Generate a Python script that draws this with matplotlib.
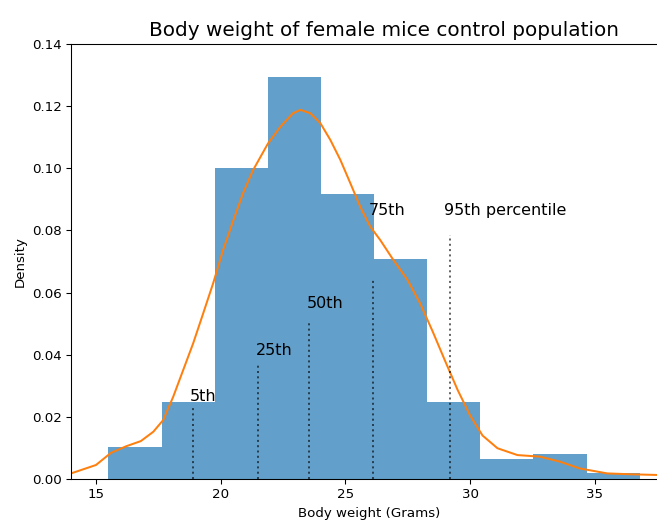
import numpy as np
import matplotlib
matplotlib.use('Agg')
import matplotlib.pyplot as plt

# histogram of body weights (density), 10 bins
bin_edges = [15.5, 17.63, 19.76, 21.89, 24.02, 26.15, 28.28, 30.41, 32.54, 34.67, 36.8]
bin_density = [0.0103, 0.0248, 0.1001, 0.1294, 0.0917, 0.0708, 0.0248, 0.0064, 0.0080, 0.0019]

# kernel density estimate
kde_x = [14.0, 15.0, 15.6, 16.2, 16.8, 17.3, 17.7, 18.1, 18.5, 18.9, 19.3, 19.7,
         20.1, 20.5, 20.9, 21.3, 21.9, 22.4, 22.9, 23.2, 23.6, 24.0, 24.4, 24.8,
         25.2, 25.6, 26.0, 26.4, 26.9, 27.5, 28.0, 28.5, 29.0, 29.5, 30.0, 30.5,
         31.1, 31.9, 32.8, 33.6, 34.4, 35.5, 36.5, 37.5]
kde_y = [0.0018, 0.0045, 0.0084, 0.0105, 0.0122, 0.0152, 0.0190, 0.0265, 0.0351, 0.0437,
         0.0533, 0.0630, 0.0737, 0.0830, 0.0920, 0.0994, 0.1080, 0.1134, 0.1177, 0.1188,
         0.1177, 0.1145, 0.1091, 0.1027, 0.0952, 0.0876, 0.0812, 0.0769, 0.0708, 0.0640,
         0.0565, 0.0475, 0.0380, 0.0287, 0.0205, 0.0140, 0.0099, 0.0077, 0.0072, 0.0056,
         0.0034, 0.0018, 0.0015, 0.0013]

# percentiles: position, line height, label
pct_x = [18.9, 21.5, 23.53, 26.1, 29.18]
pct_h = [0.0228, 0.0367, 0.0503, 0.0640, 0.0785]
pct_labels = ['5th', '25th', '50th', '75th', '95th percentile']
label_x = [18.78, 21.43, 23.46, 25.94, 28.95]
label_y = [0.025, 0.040, 0.055, 0.085, 0.085]

fig = plt.figure(figsize=(657/96, 520/96), dpi=96)
# axes run past the right edge of the canvas
ax = fig.add_axes([71/657, 41/520, 626/657, 435/520])

widths = np.diff(bin_edges)
ax.bar(bin_edges[:-1], bin_density, width=widths, align='edge', color='#1f77b4', alpha=0.7)
ax.plot(kde_x, kde_y, color='#ff7f0e', lw=1.5)

for x, h, lab, tx, ty in zip(pct_x, pct_h, pct_labels, label_x, label_y):
    ax.axvline(x, ymin=0, ymax=h / 0.14, color='k', alpha=0.6, ls=':', lw=1.5)
    ax.text(tx, ty, lab, fontsize=12, va='baseline', ha='left')

ax.set_xlim(14, 39.1)
ax.set_ylim(0, 0.14)
ax.set_xticks([15, 20, 25, 30, 35])
ax.set_yticks(np.arange(0, 0.141, 0.02))
ax.yaxis.set_major_formatter(plt.FormatStrFormatter('%.2f'))
ax.tick_params(labelsize=10)

ax.set_xlabel('Body weight (Grams)', fontsize=10, x=0.476)
ax.set_ylabel('Density', fontsize=10)
ax.set_title('Body weight of female mice control population', fontsize=15)

fig.savefig('out.png', dpi=96)
